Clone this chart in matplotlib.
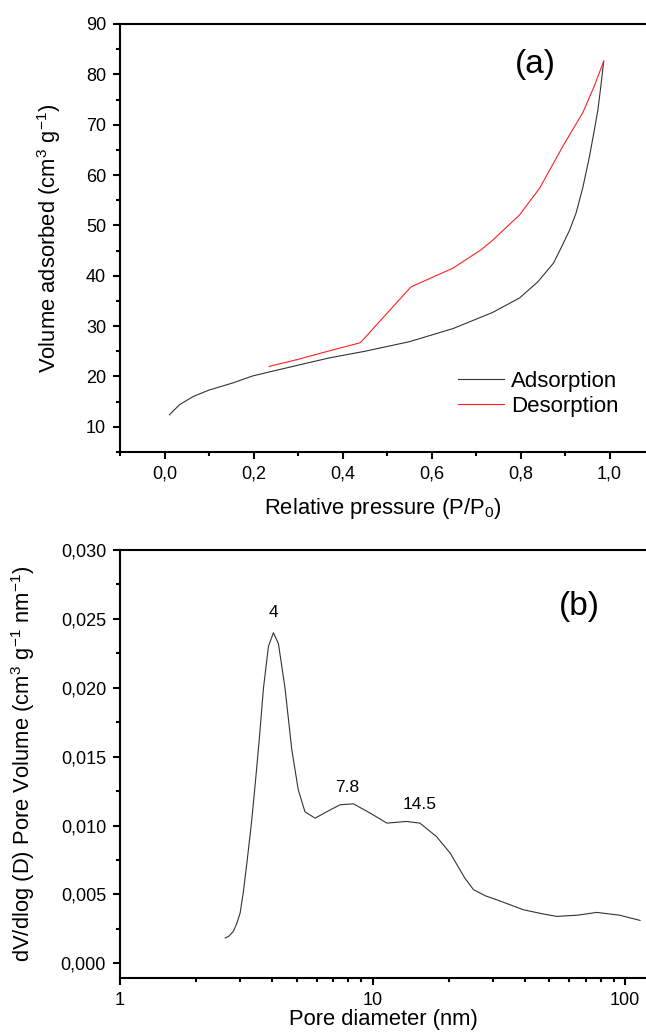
import matplotlib
matplotlib.use("Agg")
import matplotlib.pyplot as plt
from matplotlib.ticker import FuncFormatter, MultipleLocator, LogLocator, NullFormatter

plt.rcParams['font.family'] = ['Liberation Sans', 'DejaVu Sans']
plt.rcParams['mathtext.fontset'] = 'custom'
plt.rcParams['mathtext.rm'] = 'Liberation Sans'
plt.rcParams['mathtext.default'] = 'regular'

W, H = 646, 1035

# (a) N2 isotherm
ads_p = [0.011, 0.034, 0.064, 0.10, 0.153, 0.198, 0.25, 0.303, 0.371, 0.45, 0.55, 0.648,
         0.737, 0.798, 0.839, 0.874, 0.891, 0.91, 0.925, 0.94, 0.955, 0.965, 0.974, 0.981, 0.987]
ads_v = [12.4, 14.4, 16.0, 17.3, 18.7, 20.1, 21.2, 22.3, 23.7, 25.0, 26.9, 29.5,
         32.7, 35.6, 38.8, 42.5, 45.5, 49.0, 52.5, 57.5, 63.7, 68.5, 73.0, 78.0, 82.6]
des_p = [0.235, 0.30, 0.371, 0.44, 0.554, 0.648, 0.712, 0.738, 0.798, 0.843, 0.895, 0.94, 0.965, 0.987]
des_v = [22.0, 23.4, 25.1, 26.7, 37.8, 41.5, 45.2, 47.1, 52.1, 57.4, 65.7, 72.4, 77.5, 82.6]

# (b) pore size distribution
pore_d = [2.61, 2.70, 2.81, 2.90, 2.99, 3.08, 3.18, 3.25, 3.32, 3.43, 3.55, 3.70, 3.87,
          4.05, 4.24, 4.50, 4.79, 5.08, 5.40, 5.92, 6.58, 7.43, 8.40, 9.78, 11.4, 13.6,
          15.4, 17.9, 20.3, 23.2, 25.1, 28.0, 31.0, 39.6, 47.0, 53.6, 65.0, 77.2, 95.0, 114.6]
pore_v = [0.00184, 0.00198, 0.00232, 0.0029, 0.00365, 0.0052, 0.0073, 0.0088, 0.0103,
          0.0130, 0.0160, 0.0200, 0.0230, 0.0240, 0.0232, 0.0200, 0.0155, 0.0126, 0.0110,
          0.01054, 0.0110, 0.01151, 0.01158, 0.01091, 0.01018, 0.0103, 0.01018, 0.00921,
          0.0080, 0.00619, 0.00535, 0.0049, 0.00462, 0.00389, 0.0036, 0.00341, 0.0035,
          0.0037, 0.0035, 0.00312]
peak_labels = ['4', '7.8', '14.5']
peak_x = [4.05, 7.93, 15.4]
peak_y = [0.0255, 0.01274, 0.01151]


def comma(fmt):
    return FuncFormatter(lambda v, p: fmt.format(v).replace('.', ','))


def style_axes(ax):
    ax.spines['right'].set_visible(False)
    for s in ['left', 'bottom', 'top']:
        ax.spines[s].set_linewidth(1.5)
    ax.tick_params(which='major', direction='out', length=5, width=1.5, pad=5, labelsize=13,
                   top=False, right=False)
    ax.tick_params(which='minor', direction='out', length=3, width=1.5, top=False, right=False)


fig = plt.figure(figsize=(W / 100, H / 100), dpi=100)

ax1 = fig.add_axes([120 / W, 1 - 452 / H, 526 / W, 428 / H])
ax1.plot(ads_p, ads_v, color='#333333', lw=0.8, label='Adsorption')
ax1.plot(des_p, des_v, color='#ff2020', lw=0.8, label='Desorption')
ax1.set_xlim(-0.1, 1.082)
ax1.set_ylim(5, 90)
ax1.xaxis.set_major_locator(MultipleLocator(0.2))
ax1.xaxis.set_minor_locator(MultipleLocator(0.1))
ax1.yaxis.set_major_locator(MultipleLocator(10))
ax1.yaxis.set_minor_locator(MultipleLocator(5))
ax1.xaxis.set_major_formatter(comma('{:.1f}'))
style_axes(ax1)
ax1.set_xlabel('Relative pressure (P/P$_0$)', fontsize=15.8)
ax1.set_ylabel('Volume adsorbed (cm$^3$ g$^{-1}$)', fontsize=15.8)
ax1.xaxis.set_label_coords(0.5, -0.103)
ax1.yaxis.set_label_coords(-0.108, 0.5)
fig.text(535 / W, 1 - 64 / H, '(a)', fontsize=24, ha='center', va='center')
ax1.legend(loc='center left', bbox_to_anchor=(0.642, 0.136), frameon=False, fontsize=16,
           borderpad=0, borderaxespad=0, handlelength=2.1, handletextpad=0.3, labelspacing=0.2)

ax2 = fig.add_axes([120 / W, 1 - 978 / H, 526 / W, 428 / H])
ax2.plot(pore_d, pore_v, color='#333333', lw=0.8)
ax2.set_xscale('log')
ax2.set_xlim(1, 121)
ax2.set_ylim(-0.00106, 0.030)
ax2.xaxis.set_major_locator(LogLocator(base=10))
ax2.xaxis.set_minor_locator(LogLocator(base=10, subs=range(2, 10)))
ax2.xaxis.set_major_formatter(FuncFormatter(lambda v, p: '{:g}'.format(v)))
ax2.xaxis.set_minor_formatter(NullFormatter())
ax2.yaxis.set_major_locator(MultipleLocator(0.005))
ax2.yaxis.set_minor_locator(MultipleLocator(0.0025))
ax2.yaxis.set_major_formatter(comma('{:.3f}'))
style_axes(ax2)
ax2.set_xlabel('Pore diameter (nm)', fontsize=15.8)
ax2.set_ylabel('dV/dlog (D) Pore Volume (cm$^3$ g$^{-1}$ nm$^{-1}$)', fontsize=15.8)
ax2.xaxis.set_label_coords(0.5, -0.073)
ax2.yaxis.set_label_coords(-0.158, 0.5)
for lab, x, y in zip(peak_labels, peak_x, peak_y):
    ax2.text(x, y, lab, fontsize=12.5, ha='center', va='center')
fig.text(579 / W, 1 - 607 / H, '(b)', fontsize=24, ha='center', va='center')

fig.savefig('out.png', dpi=100)
